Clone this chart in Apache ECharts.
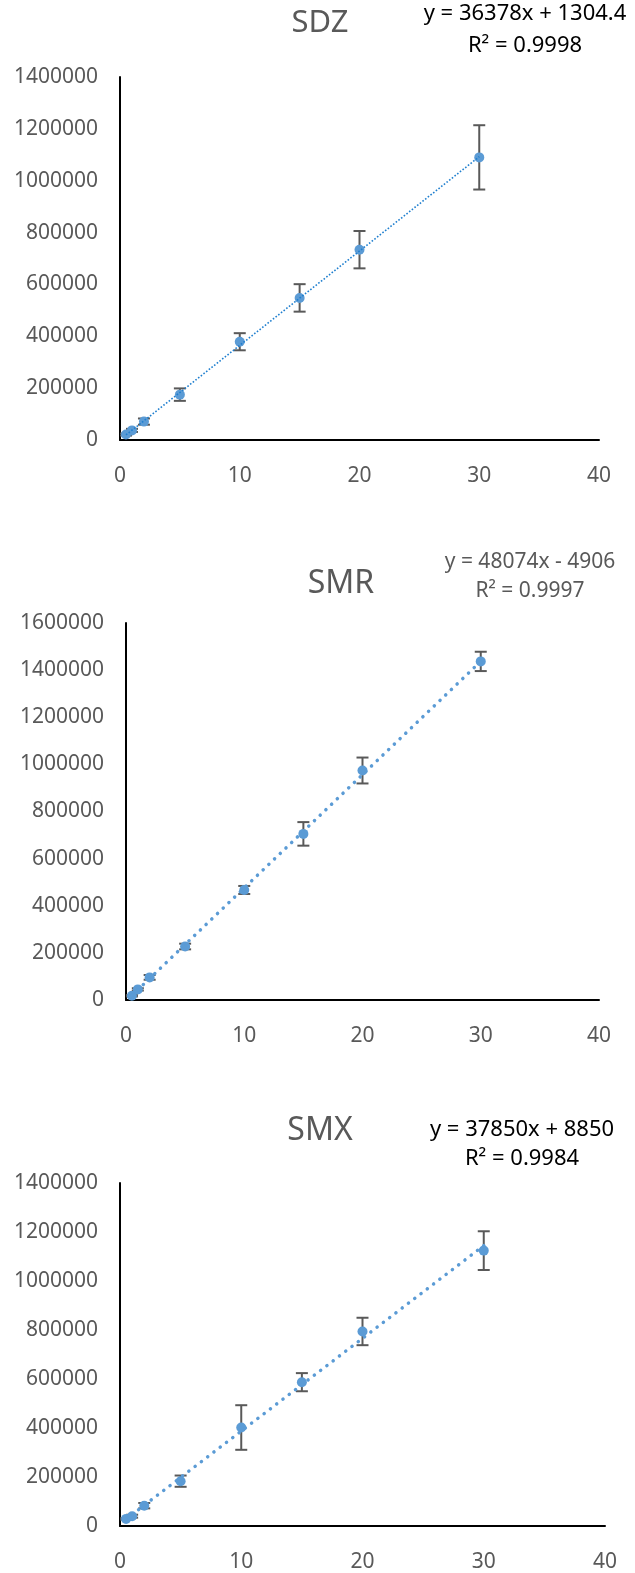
<!DOCTYPE html>
<html>
<head>
<meta charset="utf-8">
<title>SDZ / SMR / SMX calibration</title>
<script src="https://cdn.jsdelivr.net/npm/echarts@6/dist/echarts.min.js"></script>
<style>
  html, body { margin: 0; padding: 0; background: #fff; }
  #chart { width: 635px; height: 1573px; }
</style>
</head>
<body>
<div id="chart"></div>
<script>
// concentrations (x) shared by the three curves
const conc = [0.5, 1, 2, 5, 10, 15, 20, 30]

// SDZ: mean peak area and error (+/-)
const sdzMean = [21000, 37000, 71000, 175000, 379000, 548000, 734000, 1090000]
const sdzErr = [4000, 6000, 12000, 24000, 33000, 53000, 72000, 124000]
// SMR
const smrMean = [18000, 45000, 96000, 227000, 467000, 705000, 974000, 1437000]
const smrErr = [3000, 5000, 10000, 12000, 17000, 50000, 55000, 41000]
// SMX
const smxMean = [29000, 40000, 83000, 183000, 402000, 587000, 794000, 1124000]
const smxErr = [3000, 6000, 11000, 23000, 91000, 37000, 56000, 79000]

// linear trend line ends (x from first to last standard)
const trendX = [0.5, 30]
const sdzTrend = [19500, 1092600]
const smrTrend = [19100, 1437300]
const smxTrend = [27800, 1144400]

// titles and equation labels
const titles = ['SDZ', 'SMR', 'SMX']
const equations = [
  ['y = 36378x + 1304.4', 'R² = 0.9998'],
  ['y = 48074x - 4906', 'R² = 0.9997'],
  ['y = 37850x + 8850', 'R² = 0.9984']
]

// axis ranges
const xMax = 40
const xStep = 10
const yMaxes = [1400000, 1600000, 1400000]
const yStep = 200000

const FONT = '"Noto Sans", "DejaVu Sans", sans-serif'
const GRAY = '#595959'
const BLUE = '#5B9BD5'

const chart = echarts.init(document.getElementById('chart'))

const grids = [
  { left: 120, top: 77, width: 479, height: 363 },
  { left: 126, top: 623, width: 473, height: 377 },
  { left: 120, top: 1183, width: 485, height: 349 }
]

const pairs = (xs, ys) => xs.map((x, i) => [x, ys[i]])
const bars = (xs, m, e) => xs.map((x, i) => [x, m[i] - e[i], m[i] + e[i]])

const errorBars = (params, api) => {
  const x = api.value(0)
  const lo = api.coord([x, api.value(1)])
  const hi = api.coord([x, api.value(2)])
  const w = 6
  const style = { stroke: GRAY, lineWidth: 2 }
  return {
    type: 'group',
    children: [
      { type: 'line', shape: { x1: lo[0], y1: lo[1], x2: hi[0], y2: hi[1] }, style },
      { type: 'line', shape: { x1: hi[0] - w, y1: hi[1], x2: hi[0] + w, y2: hi[1] }, style },
      { type: 'line', shape: { x1: lo[0] - w, y1: lo[1], x2: lo[0] + w, y2: lo[1] }, style }
    ]
  }
}

const sets = [
  { mean: sdzMean, err: sdzErr, trend: sdzTrend,
    trendStyle: { color: '#1f7fcf', width: 1.6, type: [1.6, 1.8] } },
  { mean: smrMean, err: smrErr, trend: smrTrend,
    trendStyle: { color: BLUE, width: 3.5, type: [0.1, 7.8], cap: 'round' } },
  { mean: smxMean, err: smxErr, trend: smxTrend,
    trendStyle: { color: BLUE, width: 3.5, type: [0.1, 7.8], cap: 'round' } }
]

const series = []
sets.forEach((s, i) => {
  series.push({
    type: 'custom',
    xAxisIndex: i,
    yAxisIndex: i,
    renderItem: errorBars,
    data: bars(conc, s.mean, s.err),
    z: 2,
    silent: true
  })
  series.push({
    type: 'scatter',
    xAxisIndex: i,
    yAxisIndex: i,
    data: pairs(conc, s.mean),
    symbolSize: 10,
    itemStyle: { color: BLUE, opacity: 1 },
    z: 3
  })
  series.push({
    type: 'line',
    xAxisIndex: i,
    yAxisIndex: i,
    data: pairs(trendX, s.trend),
    showSymbol: false,
    lineStyle: s.trendStyle,
    z: 4
  })
})

const axisLine = { show: true, onZero: false, lineStyle: { color: '#000', width: 2 } }

// text labels: chart titles and trendline equations
const labels = [
  { x: 320, y: 23, text: titles[0], size: 31, color: GRAY },
  { x: 341, y: 584, text: titles[1], size: 32, color: GRAY },
  { x: 320, y: 1131, text: titles[2], size: 32, color: GRAY },
  { x: 525, y: 14, text: equations[0][0], size: 22, color: '#000' },
  { x: 525, y: 46, text: equations[0][1], size: 22, color: '#000' },
  { x: 530, y: 562, text: equations[1][0], size: 21, color: GRAY },
  { x: 530, y: 591, text: equations[1][1], size: 21, color: GRAY },
  { x: 522, y: 1130, text: equations[2][0], size: 22, color: '#000' },
  { x: 522, y: 1159, text: equations[2][1], size: 22, color: '#000' }
]

const option = {
  animation: false,
  backgroundColor: '#fff',
  graphic: labels.map(g => ({
    type: 'text',
    x: g.x,
    y: g.y,
    style: {
      text: g.text,
      fill: g.color,
      font: g.size + 'px ' + FONT,
      textAlign: 'center',
      textVerticalAlign: 'middle'
    }
  })),
  grid: grids,
  xAxis: grids.map((g, i) => ({
    type: 'value',
    gridIndex: i,
    min: 0,
    max: xMax,
    interval: xStep,
    axisLine,
    axisTick: { show: false },
    splitLine: { show: false },
    axisLabel: { margin: 26, color: GRAY, fontSize: 21, fontFamily: FONT }
  })),
  yAxis: grids.map((g, i) => ({
    type: 'value',
    gridIndex: i,
    min: 0,
    max: yMaxes[i],
    interval: yStep,
    axisLine,
    axisTick: { show: false },
    splitLine: { show: false },
    axisLabel: {
      margin: 22, color: GRAY, fontSize: 21, fontFamily: FONT,
      formatter: v => String(v)
    }
  })),
  series
}

chart.setOption(option)
</script>
</body>
</html>
